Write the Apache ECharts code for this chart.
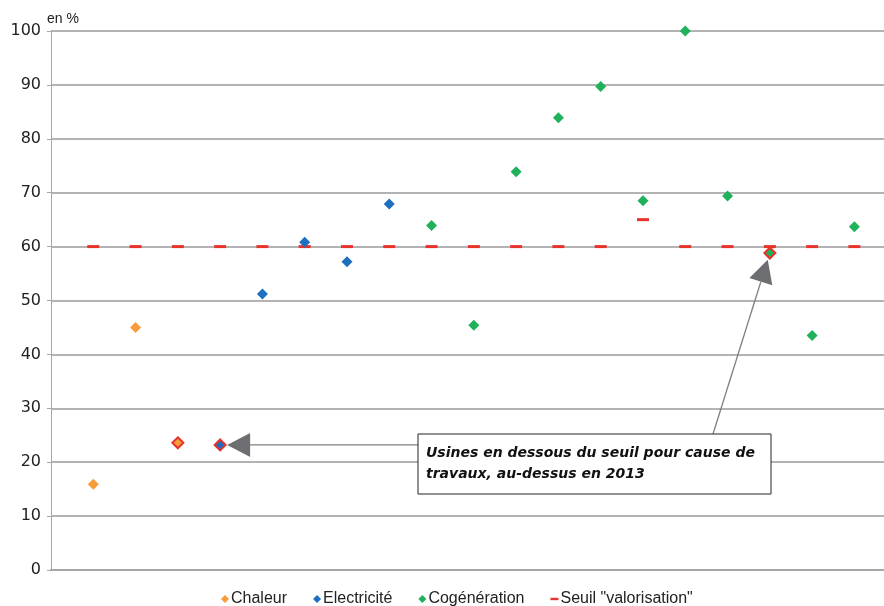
<!DOCTYPE html>
<html>
<head>
<meta charset="utf-8">
<script src="https://cdn.jsdelivr.net/npm/echarts@6/dist/echarts.min.js"></script>
<style>
  html, body { margin: 0; padding: 0; background: #fff; }
  #chart { width: 884px; height: 606px; }
</style>
</head>
<body>
<div id="chart"></div>
<script>
// Plants, one per position on the horizontal axis (1..19)
const chaleurX = [1, 2, 3];
const chaleurY = [15.9, 45.0, 23.6];
const electriciteX = [4, 5, 6, 7, 8];
const electriciteY = [23.2, 51.2, 60.8, 57.2, 67.9];
const cogenerationX = [9, 10, 11, 12, 13, 14, 15, 16, 17, 18, 19];
const cogenerationY = [63.9, 45.4, 73.9, 83.9, 89.7, 68.5, 100, 69.4, 58.8, 43.5, 63.7];
const seuilX = [1, 2, 3, 4, 5, 6, 7, 8, 9, 10, 11, 12, 13, 14, 15, 16, 17, 18, 19];
const seuilY = [60, 60, 60, 60, 60, 60, 60, 60, 60, 60, 60, 60, 60, 65, 60, 60, 60, 60, 60];
// Plants below the threshold because of works (outlined in red)
const travauxX = [3, 4, 17];
const yTicks = [0, 10, 20, 30, 40, 50, 60, 70, 80, 90, 100];
const noteText = 'Usines en dessous du seuil pour cause de\ntravaux, au-dessus en 2013';

const ORANGE = '#F79B3B';
const BLUE = '#1F6FC0';
const GREEN = '#1FB25A';
const RED = '#E8322B';
const FONT = '"Liberation Sans", Arial, sans-serif';
const NUM_FONT = '"DejaVu Sans", sans-serif';

function points(xs, ys) {
  return xs.map((x, i) => {
    const item = { value: [x, ys[i]] };
    if (travauxX.includes(x)) {
      item.itemStyle = { borderColor: RED, borderWidth: 2 };
    }
    return item;
  });
}

const chart = echarts.init(document.getElementById('chart'), null, { renderer: 'canvas' });

chart.setOption({
  animation: false,
  backgroundColor: '#fff',
  textStyle: { fontFamily: FONT },
  title: {
    text: 'en %',
    left: 42, top: 7,
    textStyle: { fontSize: 14, fontWeight: 'normal', color: '#222', fontFamily: FONT }
  },
  grid: { left: 51, top: 31, right: 0, height: 539, containLabel: false },
  xAxis: {
    type: 'value', min: 0, max: 19.7,
    axisLine: { show: true, lineStyle: { color: '#a6a6a6', width: 2 } },
    axisTick: { show: false },
    axisLabel: { show: false },
    splitLine: { show: false }
  },
  yAxis: {
    type: 'value', min: yTicks[0], max: yTicks[yTicks.length - 1], interval: 10,
    axisLine: { show: true, lineStyle: { color: '#a6a6a6', width: 1 } },
    axisTick: { show: true, length: 4, lineStyle: { color: '#a6a6a6' } },
    axisLabel: { fontSize: 16, color: '#222', margin: 10, fontFamily: NUM_FONT },
    splitLine: { show: true, lineStyle: { color: '#9a9a9a', width: 1.5 } }
  },
  legend: {
    top: 586, left: 216,
    itemWidth: 8, itemHeight: 8, itemGap: 26,
    textStyle: { fontSize: 16, color: '#222', fontFamily: FONT, padding: [0, 0, 0, -3] },
    data: [
      { name: 'Chaleur', icon: 'diamond' },
      { name: 'Electricité', icon: 'diamond' },
      { name: 'Cogénération', icon: 'diamond' },
      { name: 'Seuil "valorisation"', icon: 'path://M0,0h10v3h-10z' }
    ]
  },
  series: [
    {
      name: 'Seuil "valorisation"', type: 'scatter', symbol: 'rect', symbolSize: [12, 3],
      itemStyle: { color: RED, opacity: 1 }, z: 2,
      data: seuilX.map((x, i) => [x, seuilY[i]])
    },
    {
      name: 'Chaleur', type: 'scatter', symbol: 'diamond', symbolSize: 11,
      itemStyle: { color: ORANGE, opacity: 1 }, z: 3,
      data: points(chaleurX, chaleurY)
    },
    {
      name: 'Electricité', type: 'scatter', symbol: 'diamond', symbolSize: 11,
      itemStyle: { color: BLUE, opacity: 1 }, z: 3,
      data: points(electriciteX, electriciteY)
    },
    {
      name: 'Cogénération', type: 'scatter', symbol: 'diamond', symbolSize: 11,
      itemStyle: { color: GREEN, opacity: 1 }, z: 3,
      data: points(cogenerationX, cogenerationY)
    }
  ]
});

// Annotation box with two arrows pointing at the plants under works
const box = { x: 418, y: 434, w: 353, h: 60 };

function arrow(tail, target) {
  const dx = tail[0] - target[0], dy = tail[1] - target[1];
  const len = Math.sqrt(dx * dx + dy * dy);
  const ux = dx / len, uy = dy / len;
  const tip = [target[0] + ux * 7, target[1] + uy * 7];
  const headLen = 23, half = 12;
  const base = [tip[0] + ux * headLen, tip[1] + uy * headLen];
  const px = -uy, py = ux;
  return [
    {
      type: 'line', z: 10,
      shape: { x1: tail[0], y1: tail[1], x2: base[0], y2: base[1] },
      style: { stroke: '#808080', lineWidth: 1.3 }
    },
    {
      type: 'polygon', z: 10,
      shape: { points: [tip, [base[0] + px * half, base[1] + py * half], [base[0] - px * half, base[1] - py * half]] },
      style: { fill: '#6D6E71' }
    }
  ];
}

const pElec = chart.convertToPixel({ gridIndex: 0 }, [electriciteX[0], electriciteY[0]]);
const iCog = cogenerationX.indexOf(17);
const pCog = chart.convertToPixel({ gridIndex: 0 }, [cogenerationX[iCog], cogenerationY[iCog]]);

chart.setOption({
  graphic: [
    ...arrow([box.x, pElec[1]], pElec),
    ...arrow([box.x + 295, box.y], pCog),
    {
      type: 'rect', z: 11,
      shape: { x: box.x, y: box.y, width: box.w, height: box.h },
      style: { fill: '#fff', stroke: '#222', lineWidth: 1 }
    },
    {
      type: 'text', z: 12,
      x: box.x + 8, y: box.y + 9,
      style: {
        text: noteText, fill: '#111',
        font: 'italic bold 14px "DejaVu Sans", sans-serif', lineHeight: 21
      }
    }
  ]
});
</script>
</body>
</html>
